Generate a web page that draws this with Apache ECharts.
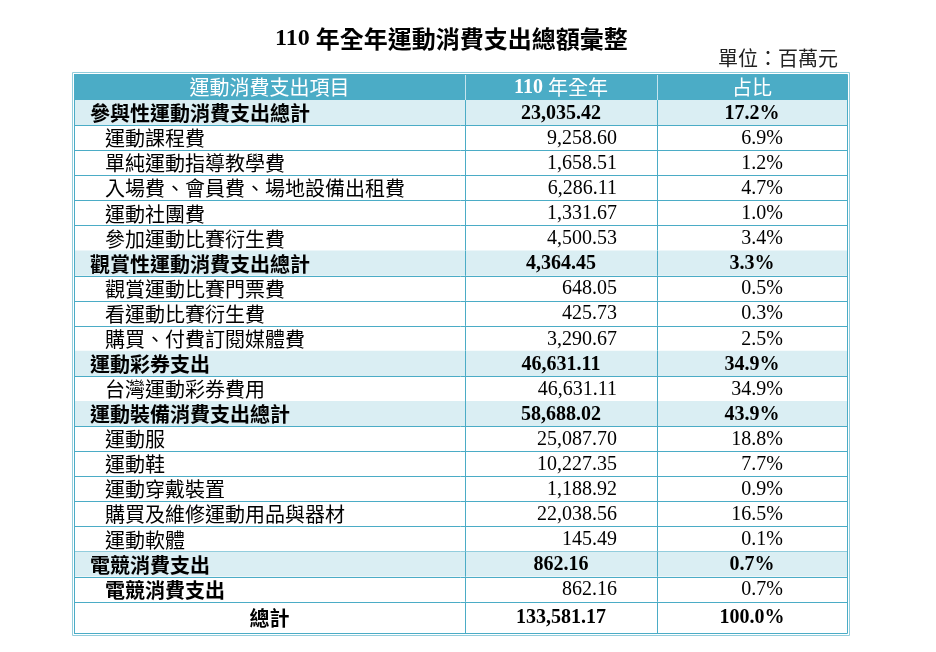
<!DOCTYPE html>
<html>
<head>
<meta charset="utf-8">
<script src="https://cdn.jsdelivr.net/npm/echarts@6/dist/echarts.min.js"></script>
<style>
  html, body { margin: 0; padding: 0; background: #fff; }
  #main { width: 936px; height: 652px; }
</style>
</head>
<body>
<div id="main"></div>
<script>
// 表頭
var headers = ['運動消費支出項目', '110 年全年', '占比'];

// 項目名稱
var items = [
  '參與性運動消費支出總計', '運動課程費', '單純運動指導教學費', '入場費、會員費、場地設備出租費',
  '運動社團費', '參加運動比賽衍生費',
  '觀賞性運動消費支出總計', '觀賞運動比賽門票費', '看運動比賽衍生費', '購買、付費訂閱媒體費',
  '運動彩券支出', '台灣運動彩券費用',
  '運動裝備消費支出總計', '運動服', '運動鞋', '運動穿戴裝置', '購買及維修運動用品與器材', '運動軟體',
  '電競消費支出', '電競消費支出',
  '總計'
];

// 列類型: group = 小計, item = 細項, itemBold = 粗體細項, grand = 總計
var rowTypes = [
  'group', 'item', 'item', 'item', 'item', 'item',
  'group', 'item', 'item', 'item',
  'group', 'item',
  'group', 'item', 'item', 'item', 'item', 'item',
  'group', 'itemBold',
  'grand'
];

// 金額 (百萬元)
var amounts = [
  23035.42, 9258.60, 1658.51, 6286.11, 1331.67, 4500.53,
  4364.45, 648.05, 425.73, 3290.67,
  46631.11, 46631.11,
  58688.02, 25087.70, 10227.35, 1188.92, 22038.56, 145.49,
  862.16, 862.16,
  133581.17
];

// 占比 (%)
var shares = [
  17.2, 6.9, 1.2, 4.7, 1.0, 3.4,
  3.3, 0.5, 0.3, 2.5,
  34.9, 34.9,
  43.9, 18.8, 7.7, 0.9, 16.5, 0.1,
  0.7, 0.7,
  100.0
];

var HEAD_BG = '#4BACC6';
var GROUP_BG = '#DAEEF3';
var LINE = '#4BACC6';
var FRAME_OUT = '#92CDDC';
var CJK = '"Noto Sans CJK TC", sans-serif';
var SERIF = '"Liberation Serif", "Times New Roman", serif';

// 欄位分界 (x 軸 0~1)
var colEdges = [0, 0.5058, 0.7542, 1];
// 各列高度 (以一般列為 1)
var spanOf = { head: 1.04, grand: 1.25 };

var types = ['head'].concat(rowTypes);
var rowStart = [];
var acc = 0;
types.forEach(function (t) {
  rowStart.push(acc);
  acc += spanOf[t] || 1;
});
var yMax = acc;

function fmtAmount(v) {
  return v.toLocaleString('en-US', { minimumFractionDigits: 2, maximumFractionDigits: 2 });
}
function fmtShare(v) {
  return v.toFixed(1) + '%';
}

function cellText(x, y, text, align, font, bold, fill, rich) {
  return {
    type: 'text',
    style: {
      x: x, y: y, text: text,
      align: align, verticalAlign: 'middle',
      fontFamily: font, fontSize: 20, fontWeight: bold ? 'bold' : 'normal',
      fill: fill, rich: rich
    }
  };
}

function renderRow(params, api) {
  var idx = api.value(0);
  var type = types[idx];
  var y0 = api.coord([0, rowStart[idx]])[1];
  var y1 = api.coord([0, rowStart[idx] + (spanOf[type] || 1)])[1];
  var xs = colEdges.map(function (c) { return api.coord([c, 0])[0]; });
  var cy = (y0 + y1) / 2 + 1;
  var children = [];

  var bg = type === 'head' ? HEAD_BG : (type === 'group' ? GROUP_BG : null);
  if (bg) {
    children.push({ type: 'rect', shape: { x: xs[0], y: y0, width: xs[3] - xs[0], height: y1 - y0 }, style: { fill: bg } });
  }
  var by = Math.round(y1) + 0.5;
  children.push({ type: 'line', shape: { x1: xs[0], y1: by, x2: xs[3], y2: by }, style: { stroke: LINE, lineWidth: 1 } });
  [1, 2].forEach(function (k) {
    var vx = Math.round(xs[k]) + 0.5;
    children.push({
      type: 'line', shape: { x1: vx, y1: y0, x2: vx, y2: y1 },
      style: { stroke: type === 'head' ? '#C5E4EE' : LINE, lineWidth: 1 }
    });
  });

  if (type === 'head') {
    cy = (y0 + y1) / 2 + 0.5;
    children.push(cellText((xs[0] + xs[1]) / 2, cy, headers[0], 'center', CJK, false, '#fff'));
    var parts = headers[1].split(' ');
    children.push(cellText((xs[1] + xs[2]) / 2, cy, '{n|' + parts[0] + ' }{c|' + parts[1] + '}', 'center', CJK, false, '#fff', {
      n: { fontFamily: SERIF, fontWeight: 'bold', fontSize: 20, color: '#fff' },
      c: { fontFamily: CJK, fontSize: 20, color: '#fff' }
    }));
    children.push(cellText((xs[2] + xs[3]) / 2, cy, headers[2], 'center', CJK, false, '#fff'));
    return { type: 'group', children: children };
  }

  var i = idx - 1;
  var bold = type !== 'item';
  var centered = type === 'group' || type === 'grand';
  if (type === 'grand') {
    children.push(cellText((xs[0] + xs[1]) / 2, cy, items[i], 'center', CJK, true, '#000'));
  } else {
    var indent = type === 'group' ? 16 : 31;
    children.push(cellText(xs[0] + indent, cy, items[i], 'left', CJK, bold, '#000'));
  }
  if (centered) {
    children.push(cellText((xs[1] + xs[2]) / 2, cy, fmtAmount(amounts[i]), 'center', SERIF, true, '#000'));
    children.push(cellText((xs[2] + xs[3]) / 2, cy, fmtShare(shares[i]), 'center', SERIF, true, '#000'));
  } else {
    children.push(cellText(xs[2] - 40, cy, fmtAmount(amounts[i]), 'right', SERIF, false, '#000'));
    children.push(cellText(xs[3] - 64, cy, fmtShare(shares[i]), 'right', SERIF, false, '#000'));
  }
  return { type: 'group', children: children };
}

function renderFrame(params, api) {
  var p0 = api.coord([0, 0]);
  var p1 = api.coord([1, yMax]);
  var x0 = Math.round(p0[0]) + 0.5, y0 = Math.round(p0[1]) + 0.5;
  var x1 = Math.round(p1[0]) + 0.5, y1 = Math.round(p1[1]) + 0.5;
  return {
    type: 'group',
    children: [
      { type: 'rect', shape: { x: x0, y: y0, width: x1 - x0, height: y1 - y0 }, style: { fill: null, stroke: LINE, lineWidth: 1 } },
      { type: 'rect', shape: { x: x0 - 2, y: y0 - 2, width: x1 - x0 + 4, height: y1 - y0 + 4 }, style: { fill: null, stroke: FRAME_OUT, lineWidth: 1 } }
    ]
  };
}

var chart = echarts.init(document.getElementById('main'), null, { renderer: 'canvas' });

var option = {
  backgroundColor: '#ffffff',
  animation: false,
  title: [{
    text: '{n|110 }{c|年全年運動消費支出總額彙整}',
    left: 275,
    top: 26,
    padding: 0,
    textStyle: {
      rich: {
        n: { fontFamily: SERIF, fontWeight: 'bold', fontSize: 24, color: '#000', lineHeight: 26 },
        c: { fontFamily: CJK, fontWeight: 'bold', fontSize: 24, color: '#000', lineHeight: 26 }
      }
    }
  }, {
    text: '單位：百萬元',
    right: 98,
    top: 47,
    padding: 0,
    textStyle: { fontFamily: CJK, fontWeight: 'normal', fontSize: 20, color: '#222', lineHeight: 22 }
  }],
  grid: { left: 74, right: 89, top: 74, bottom: 19 },
  xAxis: { type: 'value', min: 0, max: 1, show: false },
  yAxis: { type: 'value', min: 0, max: yMax, inverse: true, show: false },
  series: [{
    type: 'custom',
    renderItem: renderRow,
    data: types.map(function (t, k) { return [k]; }),
    silent: true
  }, {
    type: 'custom',
    renderItem: renderFrame,
    data: [[0]],
    silent: true
  }]
};

chart.setOption(option);
</script>
</body>
</html>
